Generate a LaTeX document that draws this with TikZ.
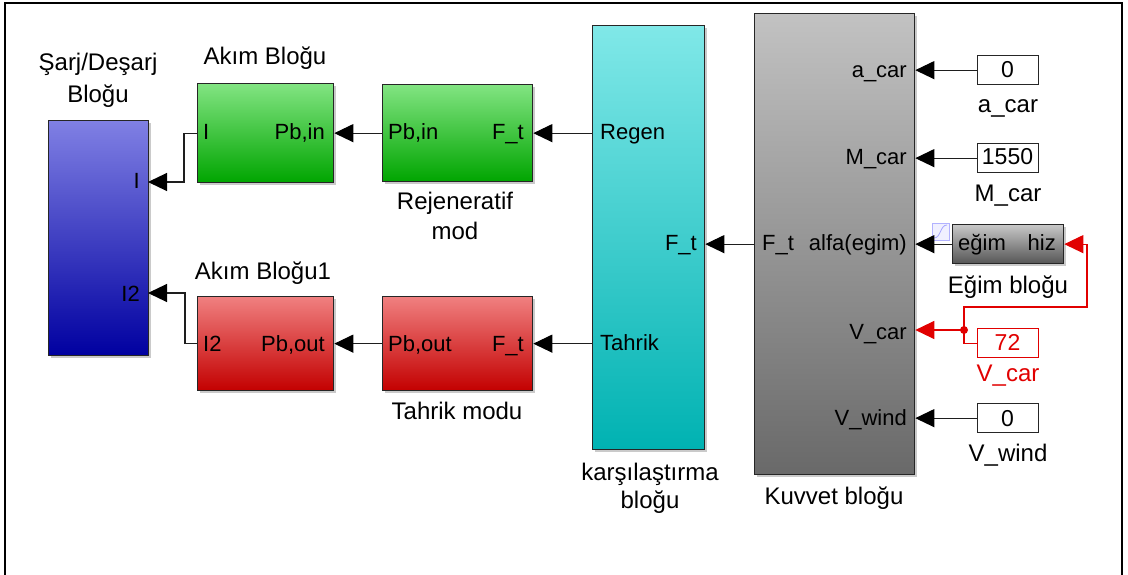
\documentclass[tikz,border=0pt]{standalone}
\usepackage{fontspec}
\setmainfont{Liberation Sans}
\usetikzlibrary{arrows.meta,shadows}

% block colours (top / bottom of the gradient)
\definecolor{grnT}{RGB}{130,228,130}\definecolor{grnB}{RGB}{0,165,0}
\definecolor{redT}{RGB}{240,128,128}\definecolor{redB}{RGB}{195,0,0}
\definecolor{bluT}{RGB}{128,128,228}\definecolor{bluB}{RGB}{0,0,160}
\definecolor{cynT}{RGB}{128,232,232}\definecolor{cynB}{RGB}{0,178,178}
\definecolor{gryT}{RGB}{194,194,194}\definecolor{gryB}{RGB}{105,105,105}
\definecolor{egmT}{RGB}{200,200,200}\definecolor{egmB}{RGB}{85,85,85}
\definecolor{sigred}{RGB}{225,0,0}
\definecolor{wire}{RGB}{30,30,30}

\begin{document}
\begin{tikzpicture}[x=1pt,y=-1pt,
  blk/.style={rectangle,draw=black!85,line width=1.3pt,inner sep=0pt,anchor=north west,
    drop shadow={shadow xshift=2pt,shadow yshift=-2pt,opacity=0.35,fill=black!60}},
  grad/.style n args={2}{top color=#1,middle color=#1!80!#2,bottom color=#2},
  const/.style={rectangle,draw=black!85,line width=1.3pt,fill=white,inner sep=0pt,
    minimum width=61pt,minimum height=29pt,anchor=north west},
  ctext/.style={inner sep=0pt,anchor=base,font=\fontsize{23}{27}\selectfont},
  port/.style={inner sep=0pt,font=\fontsize{22}{26}\selectfont},
  lbl/.style={inner sep=0pt,anchor=base,font=\fontsize{24}{28}\selectfont},
  arr/.style={draw=wire,line width=1.1pt,-{Triangle[length=19pt,width=18pt,color=black]}},
  rarr/.style={draw=sigred,line width=1.1pt,-{Triangle[length=19pt,width=18pt]}},
  rline/.style={draw=sigred,line width=1.1pt}]

\useasboundingbox (0,0) rectangle (1128,575);

% outer frame
\draw[line width=1.8pt] (5,575) -- (5,3) -- (1122,3) -- (1122,575);

% ---- blocks ----
\node[blk,grad={bluT}{bluB},minimum width=100pt,minimum height=235pt] (chg) at (48,120) {};
\node[blk,grad={grnT}{grnB},minimum width=136pt,minimum height=99pt] (akim) at (197,83) {};
\node[blk,grad={grnT}{grnB},minimum width=150pt,minimum height=97pt] (rej) at (382,84) {};
\node[blk,grad={redT}{redB},minimum width=136pt,minimum height=94pt] (akim2) at (197,296) {};
\node[blk,grad={redT}{redB},minimum width=150pt,minimum height=94pt] (tah) at (382,296) {};
\node[blk,grad={cynT}{cynB},minimum width=112pt,minimum height=424pt] (cmp) at (592,25) {};
\node[blk,grad={gryT}{gryB},minimum width=160pt,minimum height=461pt] (kuv) at (754,13) {};
\node[blk,grad={egmT}{egmB},minimum width=111pt,minimum height=39pt] (egim) at (952,224) {};

% constant sources
\node[const] (ca) at (977,55) {};
\node[const] (cm) at (977,143) {};
\node[const,draw=sigred] (cv) at (977,328) {};
\node[const] (cw) at (977,403) {};
\node[ctext] at (1007.5,78) {0};
\node[ctext] at (1007.5,165) {1550};
\node[ctext,text=sigred] at (1007.5,350) {72};
\node[ctext] at (1007.5,426) {0};

% lookup-table badge of the slope block
\draw[draw=blue!30,fill=blue!6,line width=0.8pt] (932,223) rectangle (949,240);
\draw[draw=blue!35,line width=0.8pt] (934,238) .. controls (941,238) and (940,225) .. (947,225);

% ---- port labels (placed by baseline) ----
\node[port,anchor=base east] at (140,189) {I};
\node[port,anchor=base east] at (140,301) {I2};

\node[port,anchor=base west] at (203,140) {I};
\node[port,anchor=base east] at (325,140) {Pb,in};
\node[port,anchor=base west] at (388,140) {Pb,in};
\node[port,anchor=base east] at (524,140) {F\_t};

\node[port,anchor=base west] at (203,351) {I2};
\node[port,anchor=base east] at (325,351) {Pb,out};
\node[port,anchor=base west] at (388,351) {Pb,out};
\node[port,anchor=base east] at (524,351) {F\_t};

\node[port,anchor=base west] at (600,140) {Regen};
\node[port,anchor=base east] at (697,251) {F\_t};
\node[port,anchor=base west] at (600,350) {Tahrik};

\node[port,anchor=base west] at (762,251) {F\_t};
\node[port,anchor=base east] at (907,251) {alfa(egim)};
\node[port,anchor=base east] at (907,78) {a\_car};
\node[port,anchor=base east] at (907,165) {M\_car};
\node[port,anchor=base east] at (907,339) {V\_car};
\node[port,anchor=base east] at (907,425) {V\_wind};

\node[port,anchor=base west] at (958,251) {eğim};
\node[port,anchor=base east] at (1056,251) {hiz};

% ---- block names (placed by baseline) ----
\node[lbl] at (98,71) {Şarj/Deşarj};
\node[lbl] at (98,103) {Bloğu};
\node[lbl] at (265,65) {Akım Bloğu};
\node[lbl] at (455,209) {Rejeneratif};
\node[lbl] at (455,240) {mod};
\node[lbl] at (263,279) {Akım Bloğu1};
\node[lbl] at (457,419) {Tahrik modu};
\node[lbl] at (650,480) {karşılaştırma};
\node[lbl] at (650,508) {bloğu};
\node[lbl] at (834,504) {Kuvvet bloğu};
\node[lbl] at (1008,113) {a\_car};
\node[lbl] at (1008,202) {M\_car};
\node[lbl] at (1008,293) {Eğim bloğu};
\node[lbl,text=sigred] at (1008,381) {V\_car};
\node[lbl] at (1008,461) {V\_wind};

% ---- port coordinates ----
\coordinate (chgI) at (148,182);
\coordinate (chgII) at (148,293);
\coordinate (vdot) at (964,330);
\coordinate (vturn) at (1087,307);

% ---- signal lines ----
\draw[arr] (akim.west) -- ++(-13,0) |- (chgI);
\draw[arr] (akim2.west) -- ++(-12,0) |- (chgII);
\draw[arr] (rej.west) -- (akim.east);
\draw[arr] (tah.west) -- (akim2.east);
\draw[arr] (cmp.west |- rej.east) -- (rej.east);
\draw[arr] (cmp.west |- tah.east) -- (tah.east);
\draw[arr] (kuv.west |- egim.west) -- (cmp.east |- egim.west);

\draw[arr] (ca.west) -- (ca.west -| kuv.east);
\draw[arr] (cm.west) -- (cm.west -| kuv.east);
\draw[arr] (egim.west) -- (egim.west -| kuv.east);
\draw[arr] (cw.west) -- (cw.west -| kuv.east);

% speed signal, branched to the force block and the slope block
\draw[rline] (cv.west) -| (vdot);
\draw[rarr] (vdot) -- (vdot -| kuv.east);
\draw[rarr] (vdot) |- (vturn) |- (egim.east);
\fill[sigred] (vdot) circle (4pt);

\end{tikzpicture}
\end{document}
